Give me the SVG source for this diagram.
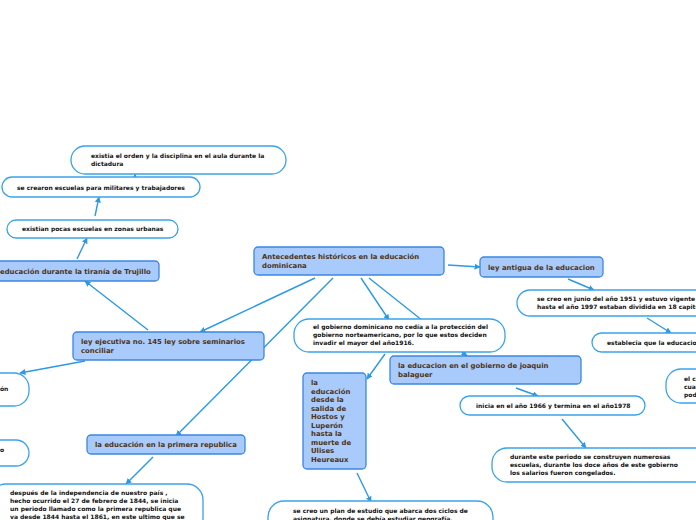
<svg xmlns="http://www.w3.org/2000/svg" width="696" height="520" viewBox="0 0 696 520">
<style>
.b{fill:#a8cbfb;stroke:#3a86e2;stroke-width:1.3}
.p{fill:#fff;stroke:#3aa2ea;stroke-width:1.3}
.bt{font-family:"DejaVu Sans",Verdana,sans-serif;font-weight:bold;font-size:6.9px;fill:#4f3214}
.pt{font-family:"DejaVu Sans",Verdana,sans-serif;font-weight:bold;font-size:6px;fill:#111}
.c{stroke:#2c9ae2;stroke-width:1.4;fill:none;marker-end:url(#a)}
</style>
<defs>
<marker id="a" viewBox="0 0 10 10" refX="9" refY="5" markerWidth="6" markerHeight="6" orient="auto" markerUnits="userSpaceOnUse">
<path d="M0,0 L10,5 L0,10 z" fill="#2c9ae2"/>
</marker>
</defs>
<g id="connectors">
<line class="c" x1="448" y1="265" x2="480" y2="267"/>
<line class="c" x1="568" y1="279" x2="594" y2="290"/>
<line class="c" x1="647" y1="318" x2="671" y2="333"/>
<line class="c" x1="361" y1="278" x2="389" y2="320"/>
<line class="c" x1="369" y1="278" x2="467" y2="356"/>
<line class="c" x1="315" y1="278" x2="200" y2="332"/>
<line class="c" x1="333" y1="278" x2="176" y2="436"/>
<line class="c" x1="148" y1="330" x2="85" y2="281"/>
<line class="c" x1="85" y1="361" x2="20" y2="373"/>
<line class="c" x1="77" y1="259" x2="87" y2="238"/>
<line class="c" x1="95" y1="216" x2="99" y2="197"/>
<line class="c" x1="135" y1="178" x2="135" y2="174"/>
<line class="c" x1="153" y1="457" x2="126" y2="484"/>
<line class="c" x1="385" y1="354" x2="367" y2="379"/>
<line class="c" x1="357" y1="473" x2="371" y2="502"/>
<line class="c" x1="516" y1="388" x2="538" y2="396"/>
<line class="c" x1="562" y1="419" x2="586" y2="448"/>
</g>
<g id="n-main"><rect class="b" x="254" y="247" width="190" height="28" rx="4"/><text class="bt" x="262" y="259">Antecedentes históricos en la educación</text><text class="bt" x="262" y="268">dominicana</text></g>
<g id="n-ley-antigua"><rect class="b" x="480" y="257" width="123" height="20" rx="4"/><text class="bt" x="488" y="270">ley antigua de la educacion</text></g>
<g id="n-1951"><rect class="p" x="517" y="290" width="200" height="26" rx="13"/><text class="pt" x="537" y="301">se creo en junio del año 1951 y estuvo vigente</text><text class="pt" x="537" y="309">hasta el año 1997 estaban dividida en 18 capitu</text></g>
<g id="n-establecia"><rect class="p" x="592" y="333" width="130" height="19" rx="9.5"/><text class="pt" x="607" y="345">establecia que la educacion</text></g>
<g id="n-elc"><rect class="p" x="666" y="369" width="60" height="34" rx="15"/><text class="pt" x="684" y="381">el c</text><text class="pt" x="684" y="389">cua</text><text class="pt" x="684" y="397">pod</text></g>
<g id="n-gobierno-dom"><rect class="p" x="294" y="319" width="211" height="33" rx="15"/><text class="pt" x="313" y="329">el gobierno dominicano no cedía a la protección del</text><text class="pt" x="313" y="337">gobierno norteamericano, por lo que estos deciden</text><text class="pt" x="313" y="345">invadir el mayor del año1916.</text></g>
<g id="n-balaguer"><rect class="b" x="390" y="356" width="191" height="28" rx="4"/><text class="bt" x="398" y="368">la educacion en el gobierno de joaquin</text><text class="bt" x="398" y="377">balaguer</text></g>
<g id="n-1966"><rect class="p" x="460" y="396" width="185" height="19" rx="9.5"/><text class="pt" x="476" y="408">inicia en el año 1966 y termina en el año1978</text></g>
<g id="n-durante"><rect class="p" x="492" y="448" width="220" height="34" rx="15"/><text class="pt" x="510" y="459">durante este periodo se construyen numerosas</text><text class="pt" x="510" y="467">escuelas, durante los doce años de este gobierno</text><text class="pt" x="510" y="475">los salarios fueron congelados.</text></g>
<g id="n-hostos"><rect class="b" x="303" y="373" width="63" height="96" rx="4"/>
<text class="bt" x="311" y="385">la</text><text class="bt" x="311" y="393.5">educación</text><text class="bt" x="311" y="402">desde la</text><text class="bt" x="311" y="410.5">salida de</text><text class="bt" x="311" y="419">Hostos y</text><text class="bt" x="311" y="427.5">Luperón</text><text class="bt" x="311" y="436">hasta la</text><text class="bt" x="311" y="444.5">muerte de</text><text class="bt" x="311" y="453">Ulises</text><text class="bt" x="311" y="461.5">Heureaux</text></g>
<g id="n-plan"><rect class="p" x="268" y="501" width="225" height="40" rx="16"/><text class="pt" x="293" y="513">se creo un plan de estudio que abarca dos ciclos de</text><text class="pt" x="293" y="521">asignatura, donde se debía estudiar geografía,</text></g>
<g id="n-ley-ejecutiva"><rect class="b" x="73" y="332" width="191" height="28" rx="4"/><text class="bt" x="81" y="344">ley ejecutiva no. 145 ley sobre seminarios</text><text class="bt" x="81" y="353">conciliar</text></g>
<g id="n-trujillo"><rect class="b" x="-20" y="261" width="179" height="20" rx="4"/><text class="bt" x="0" y="274">educación durante la tiranía de Trujillo</text></g>
<g id="n-pocas"><rect class="p" x="7" y="220" width="171" height="18" rx="9"/><text class="pt" x="22" y="231">existian pocas escuelas en zonas urbanas</text></g>
<g id="n-crearon"><rect class="p" x="2" y="177" width="198" height="20" rx="10"/><text class="pt" x="17" y="190">se crearon escuelas para militares y trabajadores</text></g>
<g id="n-orden"><rect class="p" x="71" y="146" width="215" height="28" rx="14"/><text class="pt" x="91" y="158">existia el orden y la disciplina en el aula durante la</text><text class="pt" x="91" y="166">dictadura</text></g>
<g id="n-left1"><rect class="p" x="-40" y="373" width="69" height="33" rx="15"/><text class="pt" x="0" y="391">ón</text></g>
<g id="n-left2"><rect class="p" x="-40" y="440" width="69" height="26" rx="13"/><text class="pt" x="0" y="452">o</text></g>
<g id="n-primera"><rect class="b" x="87" y="435" width="158" height="19" rx="4"/><text class="bt" x="95" y="447">la educación en la primera republica</text></g>
<g id="n-despues"><rect class="p" x="-10" y="484" width="213" height="50" rx="16"/><text class="pt" x="10" y="495">después de la independencia de nuestro país ,</text><text class="pt" x="10" y="503">hecho ocurrido el 27 de febrero de 1844, se inicia</text><text class="pt" x="10" y="511">un periodo llamado como la primera republica que</text><text class="pt" x="10" y="519">va desde 1844 hasta el 1861, en este ultimo que se</text></g>
</svg>
